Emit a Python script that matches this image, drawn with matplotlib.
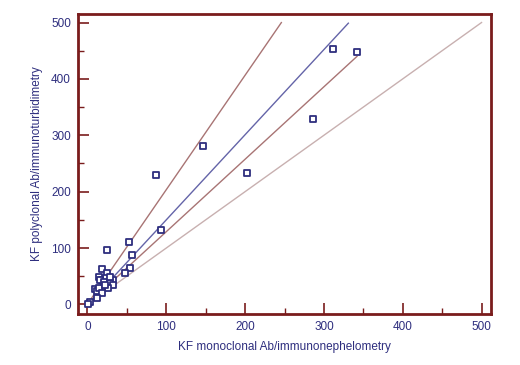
import matplotlib
matplotlib.use("Agg")
import matplotlib.pyplot as plt
import numpy as np

plt.rcParams['font.family'] = ['Liberation Sans', 'DejaVu Sans']

# Data points (monoclonal, polyclonal)
mono = [312, 342, 286, 147, 202, 87, 93, 53, 24.5, 57, 54, 48, 18, 25, 15, 19, 24,
        33, 29, 32.5, 26, 16, 9, 12, 15, 18, 12, 3, 0.5, 21, 28, 22]
poly = [453, 447, 328, 281, 233, 229, 132, 111, 96, 88, 64, 55, 63, 56, 48, 44, 46,
        44, 38, 34, 30, 43, 27, 24, 30, 21, 11, 5, 1, 40, 48, 35]

# Lines: (x_start, x_end, slope, intercept)
reg_x = [2, 331]
reg_slope, reg_icpt = 1.51, -1.0
upper_x = [2, 246]
upper_slope, upper_icpt = 2.03, 0.5
lower_x = [2, 342]
lower_slope, lower_icpt = 1.285, 0.5
ident_x = [0, 500]

xticks = [0, 100, 200, 300, 400, 500]
yticks = [0, 100, 200, 300, 400, 500]

navy = '#2e2e7e'
spine_col = '#7a1c1c'

fig = plt.figure(figsize=(5.2, 3.65), dpi=100)
ax = fig.add_axes([78/520, 1 - 314/365, (491-78)/520, (314-13.5)/365])

def line(xs, s, b):
    xs = np.array(xs, dtype=float)
    return xs, s * xs + b

ax.plot(*line(ident_x, 1.0, 0.0), color='#c8b0b0', lw=1.0, zorder=1)
ax.plot(*line(upper_x, upper_slope, upper_icpt), color='#a87474', lw=1.0, zorder=1)
ax.plot(*line(lower_x, lower_slope, lower_icpt), color='#a87474', lw=1.0, zorder=1)
ax.plot(*line(reg_x, reg_slope, reg_icpt), color='#6464a8', lw=1.0, zorder=2)

ax.scatter(mono, poly, marker='s', s=18, facecolors='white', edgecolors=navy,
           linewidths=1.3, zorder=3)

ax.set_xlim(-12, 512)
ax.set_ylim(-17, 516)
ax.set_xticks(xticks)
ax.set_yticks(yticks)
ax.set_xticks(np.arange(50, 500, 100), minor=True)
ax.set_yticks(np.arange(50, 500, 100), minor=True)

for sp in ax.spines.values():
    sp.set_color(spine_col)
    sp.set_linewidth(2.0)

ax.tick_params(which='major', direction='in', length=8, width=1.2, color=spine_col,
               labelsize=8.5, labelcolor=navy, pad=5)
ax.tick_params(which='minor', direction='in', length=4, width=1.0, color=spine_col)

ax.set_xlabel('KF monoclonal Ab/immunonephelometry', fontsize=8.5, color=navy, labelpad=6)
ax.set_ylabel('KF polyclonal Ab/immunoturbidimetry', fontsize=8.5, color=navy, labelpad=6)

fig.savefig('out.png', dpi=100, facecolor='white')
